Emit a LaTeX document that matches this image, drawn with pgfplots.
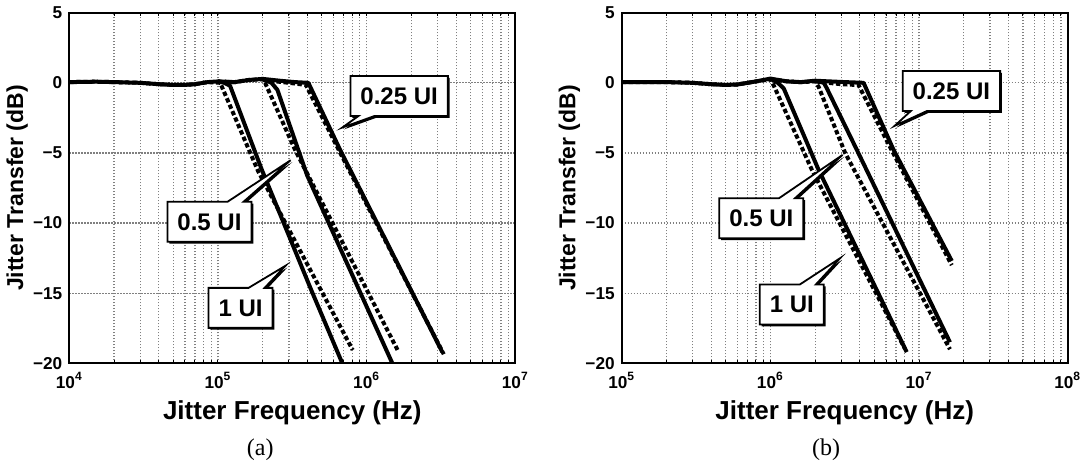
\documentclass[border=0pt]{standalone}
\usepackage{fontspec}
\setmainfont{Liberation Sans}
\newfontfamily\capfont{Liberation Serif}
\usepackage{pgfplots}
\pgfplotsset{compat=1.18}
\usetikzlibrary{shapes.callouts,shadows}

\tikzset{
  meas/.style={black, line width=2pt, line join=round},
  sim/.style={black, line width=2pt, dash pattern=on 2.2pt off 1.3pt},
  co/.style={rectangle callout, draw=black, line width=0.9pt, fill=white,
    font=\bfseries\fontsize{12}{14}\selectfont, inner xsep=5pt,
    minimum height=20pt, callout pointer width=8pt,
    drop shadow={shadow xshift=0.9pt, shadow yshift=-0.9pt, opacity=1, fill=black}},
  gr/.style={black!50, line width=0.6pt, dash pattern=on 0.8pt off 0.7pt},
}

\begin{document}
\begin{tikzpicture}
\path[use as bounding box] (0,0) rectangle (541pt,232pt);

% (a)
\begin{axis}[at={(34.65pt,50.35pt)}, anchor=south west,
  scale only axis, width=223pt, height=175.3pt,
  xmode=log,
  xmin=1e4, xmax=1e7, xtick={1e4,1e5,1e6,1e7},
  xticklabels={10\textsuperscript{4},10\textsuperscript{5},10\textsuperscript{6},10\textsuperscript{7}},
  ymin=-20, ymax=5, ytick={-20,-15,-10,-5,0,5},
  yticklabels={−20,−15,−10,−5,0,5},
  grid=both, major grid style={gr}, minor grid style={gr},
  axis line style={line width=1pt},
  tick style={black, line width=0.5pt},
  major tick length=0pt, minor tick length=1.5pt,
  ticklabel style={font=\bfseries\fontsize{8.6}{9}\selectfont},
  xticklabel style={yshift=-1pt},
  xlabel={Jitter Frequency (Hz)},
  ylabel={Jitter Transfer (dB)},
  xlabel style={at={(axis description cs:0.5,-0.159)}, anchor=base, font=\bfseries\fontsize{13}{15}\selectfont},
  ylabel style={at={(axis description cs:-0.117,0.5)}, anchor=center, font=\bfseries\fontsize{11.5}{13}\selectfont},
]
% 1 UI
\addplot[sim] coordinates {(1e4,0.05) (1.5e4,0.08) (2e4,0.05) (3e4,0.0) (4e4,-0.1) (5e4,-0.15)
  (6e4,-0.15) (7e4,-0.1) (8.5e4,0.05) (1.035e5,0.0) (1.862e5,-6.3) (2.844e5,-10.0) (8.054e5,-19.05)};
\addplot[meas] coordinates {(1e4,0.05) (1.5e4,0.08) (2e4,0.05) (3e4,0.0) (4e4,-0.1) (5e4,-0.15)
  (6e4,-0.15) (7e4,-0.1) (8.5e4,0.05) (1e5,0.1) (1.1e5,0.0) (1.205e5,-0.2) (1.972e5,-6.2)
  (4.25e5,-14.8) (6.86e5,-20)};
% 0.5 UI
\addplot[sim] coordinates {(1e5,0.1) (1.3e5,0.05) (1.6e5,0.2) (2e5,0.25) (2.075e5,0.0)
  (3.304e5,-4.79) (1.614e6,-19.05)};
\addplot[meas] coordinates {(1e5,0.1) (1.3e5,0.05) (1.6e5,0.2) (2e5,0.28) (2.29e5,0.0)
  (2.51e5,-0.5) (3.98e5,-6.6) (1.489e6,-20)};
% 0.25 UI
\addplot[sim] coordinates {(2e5,0.2) (3e5,0.0) (3.9e5,-0.15) (6.5e5,-4.8) (3.3e6,-19.35)};
\addplot[meas] coordinates {(2e5,0.28) (2.6e5,0.15) (3.3e5,0.05) (4.055e5,0.0)
  (6.637e5,-4.79) (3.228e6,-19.2)};
\coordinate (LA) at (axis cs:1.655e6,-0.94);
\coordinate (LAt) at (axis cs:6.86e5,-3.19);
\coordinate (LB) at (axis cs:8.77e4,-9.91);
\coordinate (LBt) at (axis cs:3.08e5,-5.52);
\coordinate (LC) at (axis cs:1.419e5,-16.05);
\coordinate (LCt) at (axis cs:2.85e5,-13.04);
\end{axis}

% (b)
\begin{axis}[at={(310.85pt,50.35pt)}, anchor=south west,
  scale only axis, width=223pt, height=175.3pt,
  xmode=log,
  xmin=1e5, xmax=1e8, xtick={1e5,1e6,1e7,1e8},
  xticklabels={10\textsuperscript{5},10\textsuperscript{6},10\textsuperscript{7},10\textsuperscript{8}},
  ymin=-20, ymax=5, ytick={-20,-15,-10,-5,0,5},
  yticklabels={−20,−15,−10,−5,0,5},
  grid=both, major grid style={gr}, minor grid style={gr},
  axis line style={line width=1pt},
  tick style={black, line width=0.5pt},
  major tick length=0pt, minor tick length=1.5pt,
  ticklabel style={font=\bfseries\fontsize{8.6}{9}\selectfont},
  xticklabel style={yshift=-1pt},
  xlabel={Jitter Frequency (Hz)},
  ylabel={Jitter Transfer (dB)},
  xlabel style={at={(axis description cs:0.5,-0.159)}, anchor=base, font=\bfseries\fontsize{13}{15}\selectfont},
  ylabel style={at={(axis description cs:-0.117,0.5)}, anchor=center, font=\bfseries\fontsize{11.5}{13}\selectfont},
]
% 1 UI
\addplot[sim] coordinates {(1e5,0.05) (2e5,0.05) (3e5,0.0) (4e5,-0.1) (5e5,-0.15) (6e5,-0.12)
  (8e5,0.1) (1e6,0.25) (1.05e6,-0.16) (1.901e6,-6.2) (8.035e6,-18.96)};
\addplot[meas] coordinates {(1e5,0.05) (2e5,0.05) (3e5,0.0) (4e5,-0.1) (5e5,-0.15) (6e5,-0.12)
  (8e5,0.1) (1e6,0.3) (1.122e6,0.0) (1.23e6,-0.4) (2.109e6,-6.2) (8.26e6,-19.2)};
% 0.5 UI
\addplot[sim] coordinates {(1e6,0.25) (1.3e6,0.1) (1.6e6,0.05) (2e6,0.1) (2.109e6,-0.28)
  (3.192e6,-5.03) (1.614e7,-19.0)};
\addplot[meas] coordinates {(1e6,0.3) (1.3e6,0.1) (1.6e6,0.05) (2e6,0.15) (2.291e6,0.0)
  (2.399e6,-0.4) (3.917e6,-5.03) (1.614e7,-18.5)};
% 0.25 UI
\addplot[sim] coordinates {(2e6,0.1) (3e6,-0.1) (3.917e6,-0.16) (6.531e6,-4.79) (1.66e7,-13.0)};
\addplot[meas] coordinates {(2e6,0.15) (2.5e6,0.1) (3.2e6,0.05) (4.236e6,0.0)
  (6.745e6,-4.79) (1.66e7,-12.7)};
\coordinate (RA) at (axis cs:1.651e7,-0.59);
\coordinate (RAt) at (axis cs:6.85e6,-3.07);
\coordinate (RB) at (axis cs:8.69e5,-9.66);
\coordinate (RBt) at (axis cs:3.06e6,-5.14);
\coordinate (RC) at (axis cs:1.393e6,-15.81);
\coordinate (RCt) at (axis cs:2.95e6,-12.5);
\end{axis}

\node[co, callout absolute pointer={(LAt)}] at (LA) {0.25 UI};
\node[co, callout absolute pointer={(LBt)}] at (LB) {0.5 UI};
\node[co, callout absolute pointer={(LCt)}] at (LC) {1 UI};
\node[co, callout absolute pointer={(RAt)}] at (RA) {0.25 UI};
\node[co, callout absolute pointer={(RBt)}] at (RB) {0.5 UI};
\node[co, callout absolute pointer={(RCt)}] at (RC) {1 UI};

\node[font=\capfont\fontsize{12}{13}\selectfont] at (130.15pt,7pt) {(a)};
\node[font=\capfont\fontsize{12}{13}\selectfont] at (413pt,7pt) {(b)};
\end{tikzpicture}
\end{document}
